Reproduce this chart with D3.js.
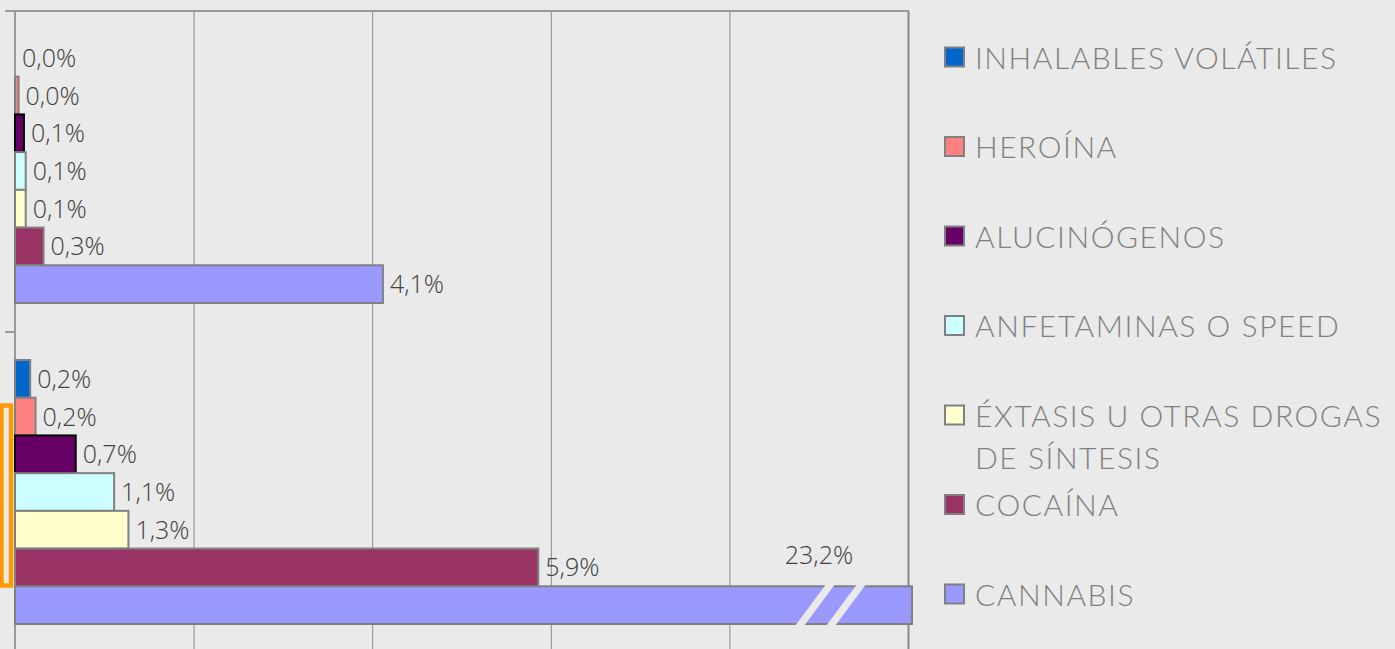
<!DOCTYPE html>
<html><head><meta charset="utf-8">
<script src="https://cdn.jsdelivr.net/npm/d3@7"></script>
<style>html,body{margin:0;padding:0;background:#EAEAEA;overflow:hidden}</style>
</head><body>
<svg id="c" width="1395" height="649"></svg>
<script>
// ---- data ----
const categories = ["Grupo 1", "Grupo 2"];
const seriesNames = ["INHALABLES VOLÁTILES", "HEROÍNA", "ALUCINÓGENOS", "ANFETAMINAS O SPEED",
  "ÉXTASIS U OTRAS DROGAS DE SÍNTESIS", "COCAÍNA", "CANNABIS"];
const legendLines = [["INHALABLES VOLÁTILES"], ["HEROÍNA"], ["ALUCINÓGENOS"], ["ANFETAMINAS O SPEED"],
  ["ÉXTASIS U OTRAS DROGAS", "DE SÍNTESIS"], ["COCAÍNA"], ["CANNABIS"]];
const inhalables   = [0.0, 0.17];
const heroina      = [0.04, 0.23];
const alucinogenos = [0.10, 0.68];
const anfetaminas  = [0.12, 1.11];
const extasis      = [0.12, 1.27];
const cocaina      = [0.32, 5.86];
const cannabis     = [4.12, 23.2];
const seriesValues = [inhalables, heroina, alucinogenos, anfetaminas, extasis, cocaina, cannabis];
const seriesColors = ["#0066CC", "#FF8080", "#660066", "#CCFFFF", "#FFFFCC", "#993366", "#9999FF"];
const seriesStrokes = ["#808080", "#808080", "#000000", "#808080", "#808080", "#808080", "#808080"];
const xTicks = [2, 4, 6, 8, 10];
const xMax = 10;

// ---- drawing ----
const W = 1395, H = 649;
const svg = d3.select("#c");
svg.append("rect").attr("width", W).attr("height", H).attr("fill", "#EAEAEA");

const plotTop = 11, plotLeft = 15, plotRight = 908;
const x = d3.scaleLinear().domain([0, xMax]).range([plotLeft, plotRight]);
const y0 = d3.scaleBand().domain(categories).range([plotTop, 653]);
const y1 = d3.scaleBand().domain(d3.range(seriesNames.length)).range([28, y0.bandwidth() - 29]);
const fmt = v => v.toFixed(1).replace(".", ",") + "%";

// gridlines via axis
const grid = svg.append("g").attr("transform", `translate(0,${plotTop})`)
  .call(d3.axisTop(x).tickValues(xTicks).tickSize(-(H - plotTop)).tickFormat(""));
grid.select(".domain").remove();
grid.selectAll(".tick line").attr("stroke", "#888").attr("stroke-width", d => d === xMax ? 2 : 1);

// top border
svg.append("line").attr("x1", 5).attr("x2", plotRight + 1).attr("y1", plotTop).attr("y2", plotTop)
  .attr("stroke", "#999").attr("stroke-width", 2);

// left axis with category boundary ticks
svg.append("line").attr("x1", plotLeft).attr("x2", plotLeft).attr("y1", plotTop - 1).attr("y2", H)
  .attr("stroke", "#999").attr("stroke-width", 2);
svg.append("g").selectAll("line").data(categories).join("line")
  .attr("x1", 5).attr("x2", plotLeft).attr("y1", d => y0(d)).attr("y2", d => y0(d))
  .attr("stroke", "#999").attr("stroke-width", 2);

// bars
const clipX = 912;
const bars = [];
categories.forEach((c, ci) => {
  seriesValues.forEach((vals, si) => {
    bars.push({ c, ci, si, v: vals[ci] });
  });
});
const gBars = svg.append("g");
bars.forEach(b => {
  const yt = y0(b.c) + y1(b.si), h = y1.bandwidth();
  const xe = Math.min(x(b.v), clipX);
  b.yt = yt; b.h = h; b.xe = xe; b.clipped = x(b.v) > clipX;
  if (b.v > 0) {
    gBars.append("rect").attr("x", x(0)).attr("y", yt).attr("width", xe - x(0)).attr("height", h)
      .attr("fill", seriesColors[b.si]).attr("stroke", seriesStrokes[b.si]).attr("stroke-width", 2);
  }
});

// break marks on clipped bars
bars.filter(b => b.clipped).forEach(b => {
  const slant = 28, gw = 9, ext = 3;
  const k = slant / b.h;
  [b.xe - 97, b.xe - 66].forEach(mx => {
    const topY = b.yt - ext, botY = b.yt + b.h + ext;
    const xTop = mx + slant / 2 + ext * k, xBot = mx - slant / 2 - ext * k;
    svg.append("polygon")
      .attr("points", [[xTop - gw / 2, topY], [xTop + gw / 2, topY], [xBot + gw / 2, botY], [xBot - gw / 2, botY]].map(p => p.join(",")).join(" "))
      .attr("fill", "#EAEAEA");
  });
});

// data labels
const gLab = svg.append("g").attr("font-family", "'Open Sans', sans-serif").attr("font-weight", 300)
  .attr("font-size", 25).attr("fill", "#404040");
bars.forEach(b => {
  const t = gLab.append("text").text(fmt(b.v));
  if (b.clipped) {
    t.attr("x", b.xe - 93).attr("y", b.yt - 31 + 9).attr("text-anchor", "middle");
  } else {
    t.attr("x", b.xe + 7).attr("y", b.yt + b.h / 2 + 9);
  }
});

// highlight bracket
svg.append("rect").attr("x", 1.5).attr("y", 405.5).attr("width", 9.5).attr("height", 180)
  .attr("fill", "none").attr("stroke", "#FF9900").attr("stroke-width", 4.5);

// legend
const lg = svg.append("g").attr("font-family", "Lato, sans-serif").attr("font-weight", 300)
  .attr("font-size", 30).attr("fill", "#808080");
const probe = lg.append("text").text(legendLines[0][0]);
const natural = probe.node().getComputedTextLength();
probe.remove();
const ls = (361 - natural) / (legendLines[0][0].length - 1);
legendLines.forEach((lines, i) => {
  const cy = 57.5 + 89.5 * i;
  lg.append("rect").attr("x", 945).attr("y", cy - 10).attr("width", 19).attr("height", 19)
    .attr("fill", seriesColors[i]).attr("stroke", "#808080").attr("stroke-width", 2);
  lines.forEach((ln, li) => {
    lg.append("text").attr("x", 975).attr("y", cy + 11 + li * 42).attr("letter-spacing", ls).text(ln);
  });
});
</script>
</body></html>
